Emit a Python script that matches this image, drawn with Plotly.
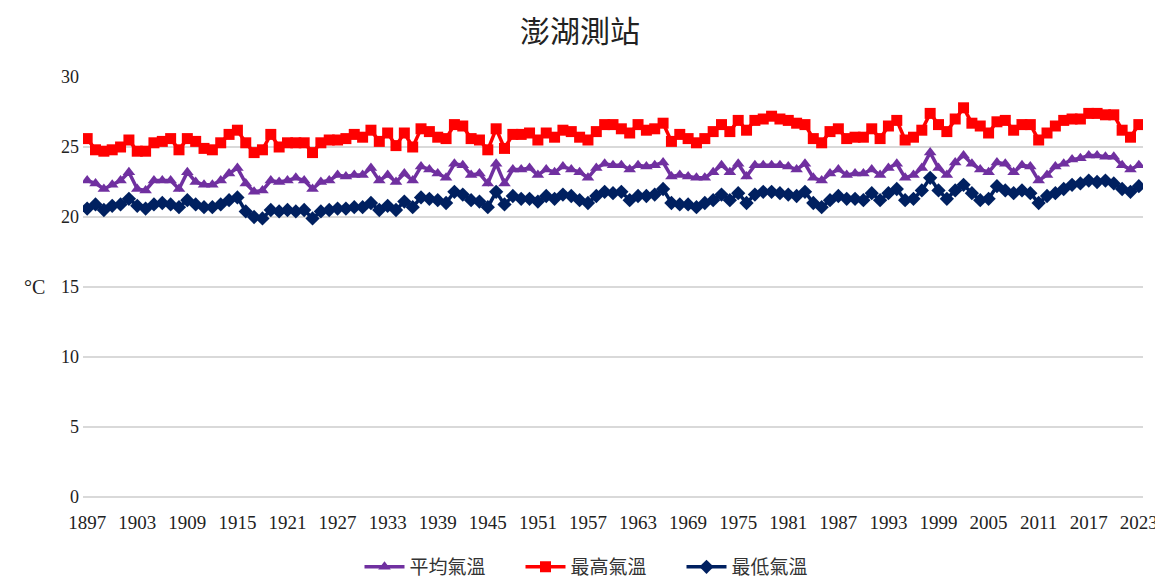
import plotly.graph_objects as go

years = list(range(1897, 2024))

avg_temp = [
    22.6, 22.4, 22.0, 22.3, 22.6, 23.2, 22.0, 21.9, 22.6, 22.6,
    22.6, 22.0, 23.2, 22.5, 22.3, 22.3, 22.6, 23.1, 23.5, 22.4,
    21.8, 21.9, 22.6, 22.5, 22.6, 22.8, 22.6, 22.0, 22.5, 22.6,
    23.0, 22.9, 23.0, 23.0, 23.5, 22.6, 23.0, 22.5, 23.1, 22.6,
    23.6, 23.4, 23.1, 22.8, 23.8, 23.7, 23.0, 23.1, 22.4, 23.8,
    22.4, 23.4, 23.4, 23.5, 23.0, 23.4, 23.2, 23.6, 23.4, 23.2,
    22.8, 23.5, 23.8, 23.7, 23.7, 23.4, 23.7, 23.6, 23.7, 23.9,
    22.9, 23.0, 22.9, 22.8, 22.8, 23.2, 23.7, 23.2, 23.8, 22.9,
    23.7, 23.7, 23.7, 23.7, 23.6, 23.4, 23.8, 22.8, 22.6, 23.1,
    23.4, 23.0, 23.1, 23.1, 23.4, 23.0, 23.5, 23.8, 22.8, 23.0,
    23.5, 24.6, 23.5, 23.0, 23.9, 24.4, 23.8, 23.4, 23.2, 23.9,
    23.8, 23.2, 23.7, 23.6, 22.6, 23.0, 23.6, 23.8, 24.1, 24.2,
    24.4, 24.4, 24.3, 24.3, 23.7, 23.4, 23.7,
]

max_temp = [
    25.6, 24.8, 24.7, 24.8, 25.0, 25.5, 24.7, 24.7, 25.3, 25.4,
    25.6, 24.8, 25.6, 25.4, 24.9, 24.8, 25.3, 25.9, 26.2, 25.3,
    24.6, 24.8, 25.9, 25.0, 25.3, 25.3, 25.3, 24.6, 25.3, 25.5,
    25.5, 25.6, 25.9, 25.7, 26.2, 25.4, 26.0, 25.1, 26.0, 25.0,
    26.3, 26.1, 25.7, 25.6, 26.6, 26.5, 25.6, 25.5, 24.8, 26.3,
    24.9, 25.9, 25.9, 26.0, 25.5, 26.0, 25.7, 26.2, 26.1, 25.7,
    25.5, 26.1, 26.6, 26.6, 26.3, 26.0, 26.6, 26.2, 26.3, 26.7,
    25.4, 25.9, 25.6, 25.3, 25.6, 26.1, 26.6, 26.1, 26.9, 26.2,
    26.9, 27.0, 27.2, 27.0, 26.9, 26.7, 26.6, 25.6, 25.3, 26.1,
    26.3, 25.6, 25.7, 25.7, 26.3, 25.6, 26.5, 26.9, 25.5, 25.7,
    26.2, 27.4, 26.6, 26.1, 27.0, 27.8, 26.7, 26.5, 26.0, 26.8,
    26.9, 26.2, 26.6, 26.6, 25.5, 26.0, 26.5, 26.9, 27.0, 27.0,
    27.4, 27.4, 27.3, 27.3, 26.2, 25.7, 26.6,
]

min_temp = [
    20.6, 20.9, 20.5, 20.8, 20.9, 21.3, 20.8, 20.6, 20.9, 21.0,
    20.9, 20.7, 21.2, 20.9, 20.7, 20.7, 20.9, 21.2, 21.4, 20.4,
    20.0, 19.9, 20.5, 20.4, 20.5, 20.4, 20.5, 19.9, 20.4, 20.5,
    20.6, 20.6, 20.7, 20.7, 21.0, 20.5, 20.8, 20.5, 21.1, 20.7,
    21.4, 21.3, 21.2, 21.0, 21.8, 21.6, 21.2, 21.1, 20.7, 21.8,
    20.9, 21.5, 21.3, 21.3, 21.1, 21.5, 21.3, 21.6, 21.5, 21.2,
    21.0, 21.5, 21.8, 21.7, 21.8, 21.2, 21.5, 21.5, 21.6, 22.0,
    21.0, 20.9, 20.9, 20.7, 21.0, 21.2, 21.6, 21.2, 21.7, 21.0,
    21.6, 21.8, 21.8, 21.7, 21.6, 21.5, 21.8, 21.0, 20.7, 21.2,
    21.5, 21.3, 21.3, 21.2, 21.7, 21.2, 21.7, 22.0, 21.2, 21.3,
    21.9, 22.8, 21.9, 21.3, 21.9, 22.3, 21.7, 21.2, 21.3, 22.2,
    21.9, 21.7, 21.9, 21.7, 21.0, 21.5, 21.7, 22.0, 22.3, 22.4,
    22.6, 22.5, 22.6, 22.4, 22.0, 21.8, 22.2,
]

x_ticks = list(range(1897, 2024, 6))
y_ticks = [0, 5, 10, 15, 20, 25, 30]

serif = "Liberation Serif, Times New Roman, serif"
cjk = "Noto Sans CJK TC, Noto Sans CJK SC, sans-serif"

fig = go.Figure()
fig.add_trace(go.Scatter(
    x=years, y=avg_temp, name="平均氣溫", mode="lines+markers",
    line=dict(color="#7030A0", width=3.5),
    marker=dict(symbol="triangle-up", size=11, color="#7030A0"),
))
fig.add_trace(go.Scatter(
    x=years, y=max_temp, name="最高氣溫", mode="lines+markers",
    line=dict(color="#FF0000", width=3.5),
    marker=dict(symbol="square", size=11, color="#FF0000"),
))
fig.add_trace(go.Scatter(
    x=years, y=min_temp, name="最低氣溫", mode="lines+markers",
    line=dict(color="#002060", width=3.5),
    marker=dict(symbol="diamond", size=11, color="#002060"),
))

fig.update_layout(
    width=1163, height=578,
    margin=dict(l=75, r=28, t=69, b=89),
    paper_bgcolor="white", plot_bgcolor="white",
    title=dict(text="澎湖測站", x=572 / 1163, xanchor="center", yref="container",
               y=1 - 23 / 578, yanchor="middle",
               font=dict(family=cjk, size=30, color="#222222")),
    showlegend=True,
    legend=dict(orientation="h", x=0.5 - 12 / 1060, xanchor="center", yref="container",
                y=1 - 559 / 578, yanchor="middle",
                font=dict(family=cjk, size=19, color="#333333"), itemwidth=40,
                entrywidth=106, traceorder="normal"),
    xaxis=dict(range=[1896.5, 2023.5], tickvals=x_ticks, ticktext=[str(t) for t in x_ticks],
               showgrid=False, zeroline=False, showline=False, ticks="",
               ticklabelstandoff=12,
               tickfont=dict(family=serif, size=19, color="#222222")),
    yaxis=dict(range=[0, 30], tickvals=y_ticks, showgrid=True, gridcolor="#D9D9D9",
               gridwidth=1.5, zeroline=True, zerolinecolor="#D9D9D9", zerolinewidth=1.5,
               ticks="", ticklabelstandoff=3,
               tickfont=dict(family=serif, size=18, color="#222222")),
    annotations=[dict(text="°C", x=-61 / 1060, y=15, xref="paper", yref="y",
                      showarrow=False, font=dict(family=serif, size=20, color="#222222"))],
)

fig.write_html("out.html")
